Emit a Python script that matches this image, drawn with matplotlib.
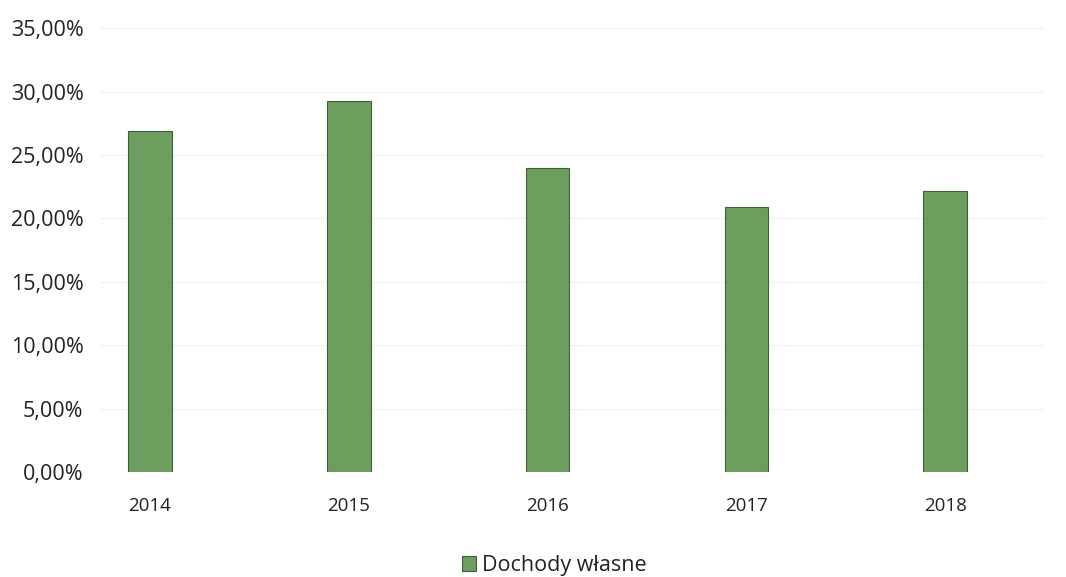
import matplotlib
matplotlib.use("Agg")
import matplotlib.pyplot as plt
from matplotlib.ticker import FuncFormatter, MultipleLocator

years = ["2014", "2015", "2016", "2017", "2018"]
values = [26.9, 29.3, 24.0, 20.9, 22.2]
series_name = "Dochody własne"

plt.rcParams['font.family'] = ['Open Sans', 'DejaVu Sans']

fig = plt.figure(figsize=(10.66, 5.77), dpi=100)
ax = fig.add_axes([0.094, 0.182, 0.886, 0.769])

x = list(range(len(years)))
ax.bar(x, values, width=0.22, color="#6c9e5d", edgecolor="#3f5f38",
       linewidth=0.8, label=series_name, zorder=3)

ax.set_xlim(-0.25, 4.5)
ax.set_ylim(0, 35)
ax.yaxis.set_major_locator(MultipleLocator(5))
ax.yaxis.set_major_formatter(FuncFormatter(lambda v, p: f"{v:.2f}".replace(".", ",") + "%"))
ax.set_xticks(x)
ax.set_xticklabels(years)

ax.grid(axis="y", color="#f1f1f1", linewidth=0.8, zorder=0)
for s in ax.spines.values():
    s.set_visible(False)
ax.tick_params(axis="both", length=0, colors="#222222")
ax.tick_params(axis="y", labelsize=15.5, pad=12)
ax.tick_params(axis="x", labelsize=13.5, pad=18)

fig.legend(loc="center", bbox_to_anchor=(0.52, 0.02), frameon=False,
           fontsize=15.5, handlelength=0.65, handleheight=0.65, handletextpad=0.3,
           labelcolor="#222222")

fig.savefig("out.png", dpi=100, facecolor="white")
